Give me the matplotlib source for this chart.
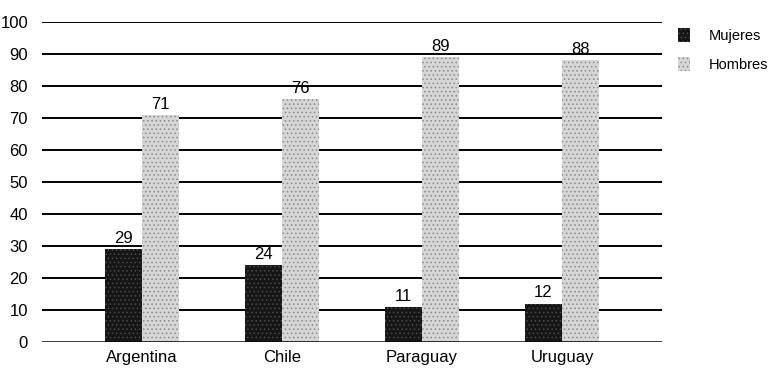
import numpy as np
import matplotlib.pyplot as plt
from matplotlib.patches import Patch

paises = ["Argentina", "Chile", "Paraguay", "Uruguay"]
mujeres = [29, 24, 11, 12]
hombres = [71, 76, 89, 88]

plt.rcParams['font.family'] = ['Liberation Sans', 'DejaVu Sans']
plt.rcParams['hatch.linewidth'] = 0.6

fig = plt.figure(figsize=(7.72, 3.68), dpi=100)
ax = fig.add_axes([0.0544, 0.0707, 0.8031, 0.8695])

x = np.arange(len(paises))
w = 0.265

b1 = ax.bar(x - w / 2, mujeres, w, color='#161616', edgecolor='#4a4a4a',
            hatch='....', linewidth=0, zorder=3)
b2 = ax.bar(x + w / 2, hombres, w, color='#d6d6d6', edgecolor='#8a8a8a',
            hatch='....', linewidth=0, zorder=3)

for bars, vals in [(b1, mujeres), (b2, hombres)]:
    for r, v in zip(bars, vals):
        ax.text(r.get_x() + r.get_width() / 2, v + 1, str(v),
                ha='center', va='bottom', fontsize=12)

for yv in range(10, 101, 10):
    ax.axhline(yv, color='black', linewidth=1.4, zorder=1)
ax.axhline(0, color='black', linewidth=1.8, zorder=4)

ax.set_xlim(-0.714, 3.714)
ax.set_ylim(0, 100)
ax.set_yticks(range(0, 101, 10))
ax.set_xticks(x)
ax.set_xticklabels(paises)
ax.tick_params(axis='both', length=0, labelsize=12)
ax.tick_params(axis='y', pad=10)
ax.tick_params(axis='x', pad=6)
for s in ax.spines.values():
    s.set_visible(False)

handles = [Patch(facecolor='#161616', edgecolor='#4a4a4a', hatch='....', linewidth=0),
           Patch(facecolor='#d6d6d6', edgecolor='#8a8a8a', hatch='....', linewidth=0)]
fig.legend(handles, ["Mujeres", "Hombres"], loc='upper left',
           bbox_to_anchor=(0.878, 0.925), frameon=False, fontsize=10.5,
           handlelength=0.85, handleheight=1.1, labelspacing=1.0, handletextpad=1.3,
           borderpad=0, borderaxespad=0)

fig.savefig('out.png', dpi=100)
